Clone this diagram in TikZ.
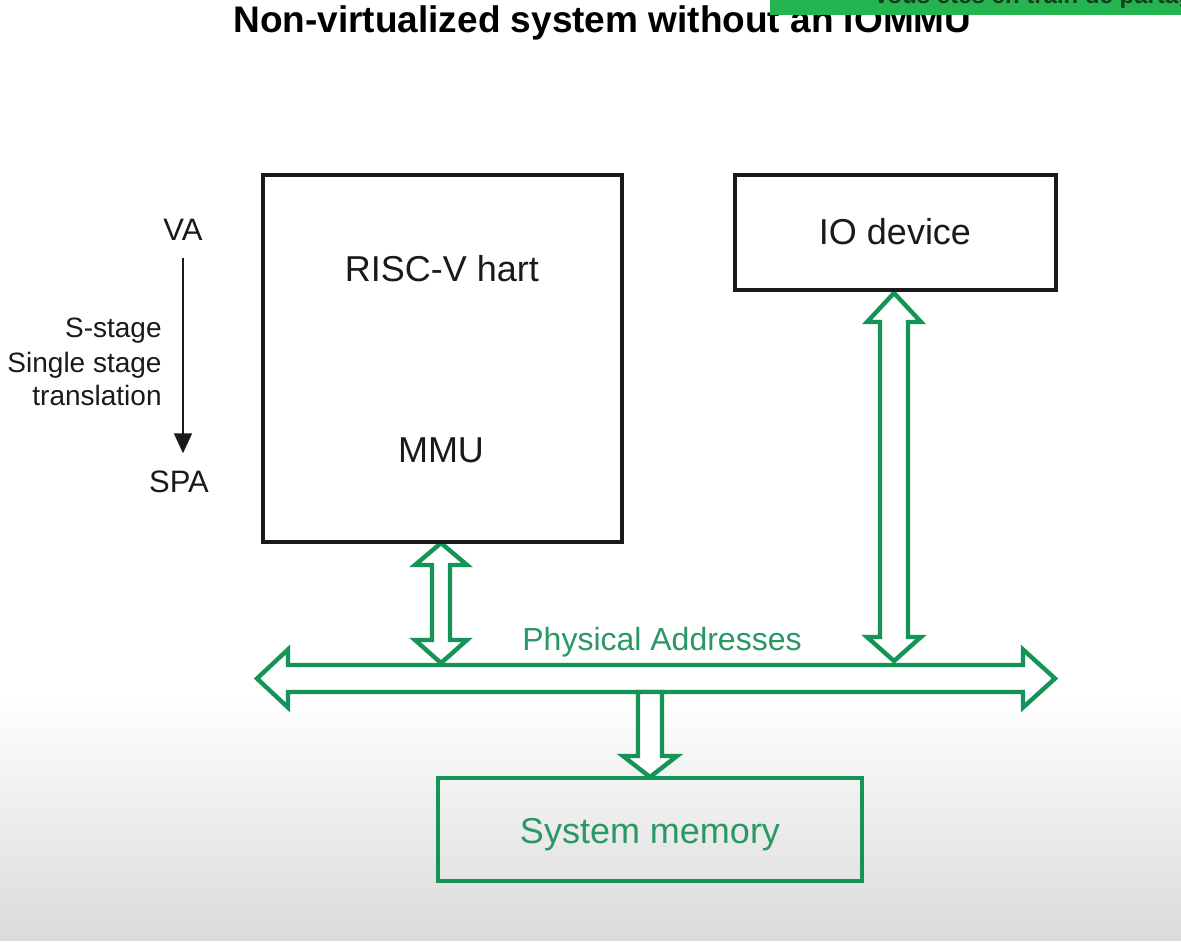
\documentclass[tikz,border=0pt]{standalone}
\usepackage{fontspec}
\setmainfont{Liberation Sans}
\usetikzlibrary{arrows.meta}

\definecolor{ink}{RGB}{26,26,26}
\definecolor{busgreen}{RGB}{20,148,86}
\definecolor{labelgreen}{RGB}{42,152,100}
\definecolor{bannergreen}{RGB}{36,180,80}
\definecolor{bannerink}{RGB}{20,60,30}

\tikzset{
    hollow/.style={draw=busgreen,line width=2.2pt,fill=white,line join=miter},
    bigtxt/.style={anchor=base,inner sep=0pt,font=\fontsize{18}{21}\selectfont},
    sidetxt/.style={anchor=base east,inner sep=0pt,text=ink,font=\fontsize{14}{17}\selectfont}
}

\begin{document}
\begin{tikzpicture}[x=0.5pt,y=-0.5pt]
    \useasboundingbox (0,0) rectangle (1181,941);
    \begin{scope}
    \clip (0,0) rectangle (1181,941);

    % background, greying towards the bottom
    \fill[white] (0,0) rectangle (1181,941);
    \foreach \i in {0,...,49} {
        \pgfmathsetmacro\greyamt{\i*14/49}
        \fill[black!\greyamt] (0,{690+\i*5}) rectangle (1181,{696+\i*5});
    }

    % title and the sharing banner over it
    \node[anchor=base west,inner sep=0pt,text=black,
          font=\bfseries\fontsize{18.5}{22}\selectfont] (title) at (233,33)
          {Non-virtualized system without an IOMMU};
    \fill[bannergreen] (770,-10) rectangle (1181,15);
    \node[anchor=base west,inner sep=0pt,text=bannerink,
          font=\bfseries\fontsize{12}{14}\selectfont] (share) at (873,4)
          {Vous êtes en train de partager};

    % hollow bus arrows
    \draw[hollow] (257,678.5) -- (288,649.5) -- (288,665) -- (1023,665) -- (1023,649.5)
        -- (1055,678.5) -- (1023,707.5) -- (1023,692) -- (288,692) -- (288,707.5) -- cycle;
    \draw[hollow] (441,543) -- (467,565) -- (450,565) -- (450,640) -- (467,640)
        -- (441,663) -- (415,640) -- (432,640) -- (432,565) -- (415,565) -- cycle;
    \draw[hollow] (894,293) -- (921,322) -- (908,322) -- (908,637) -- (921,637)
        -- (894,661) -- (867,637) -- (880,637) -- (880,322) -- (867,322) -- cycle;
    \draw[hollow] (638,692) -- (638,756) -- (623,756) -- (650,777) -- (677,756)
        -- (662,756) -- (662,692) -- cycle;

    % boxes
    \begin{scope}[every node/.style={draw=ink,line width=2pt,inner sep=0pt}]
        \node[minimum width=179.5pt,minimum height=183.5pt] (hart) at (442.5,358.5) {};
        \node[minimum width=160.5pt,minimum height=57.5pt] (io) at (895.5,232.5) {};
    \end{scope}
    \node[draw=busgreen,line width=2.2pt,inner sep=0pt,
          minimum width=212pt,minimum height=51.5pt] (mem) at (650,829.5) {};

    % labels
    \node[bigtxt,text=ink] (harttxt) at (442,281) {RISC-V hart};
    \node[bigtxt,text=ink] (mmu) at (441,462) {MMU};
    \node[bigtxt,text=ink] (iotxt) at (895,244) {IO device};
    \node[bigtxt,text=labelgreen] (memtxt) at (650,843) {System memory};
    \node[anchor=base,inner sep=0pt,text=labelgreen,
          font=\fontsize{16}{19}\selectfont] (addr) at (662,650) {Physical Addresses};

    % translation on the left
    \node[anchor=base,text=ink,font=\fontsize{15.5}{18}\selectfont] (va) at (183,240) {VA};
    \node[anchor=base,text=ink,font=\fontsize{15.5}{18}\selectfont] (spa) at (179,492) {SPA};
    \draw[ink,line width=1pt,-{Triangle[width=9pt,length=10pt]},
          shorten <=5.7pt,shorten >=5pt] (va.south) -- (spa.north -| va.south);
    \node[sidetxt] (stagea) at (162,337) {S-stage};
    \node[sidetxt] (stageb) at (162,372) {Single stage};
    \node[sidetxt] (stagec) at (162,405) {translation};
    \end{scope}
\end{tikzpicture}
\end{document}
